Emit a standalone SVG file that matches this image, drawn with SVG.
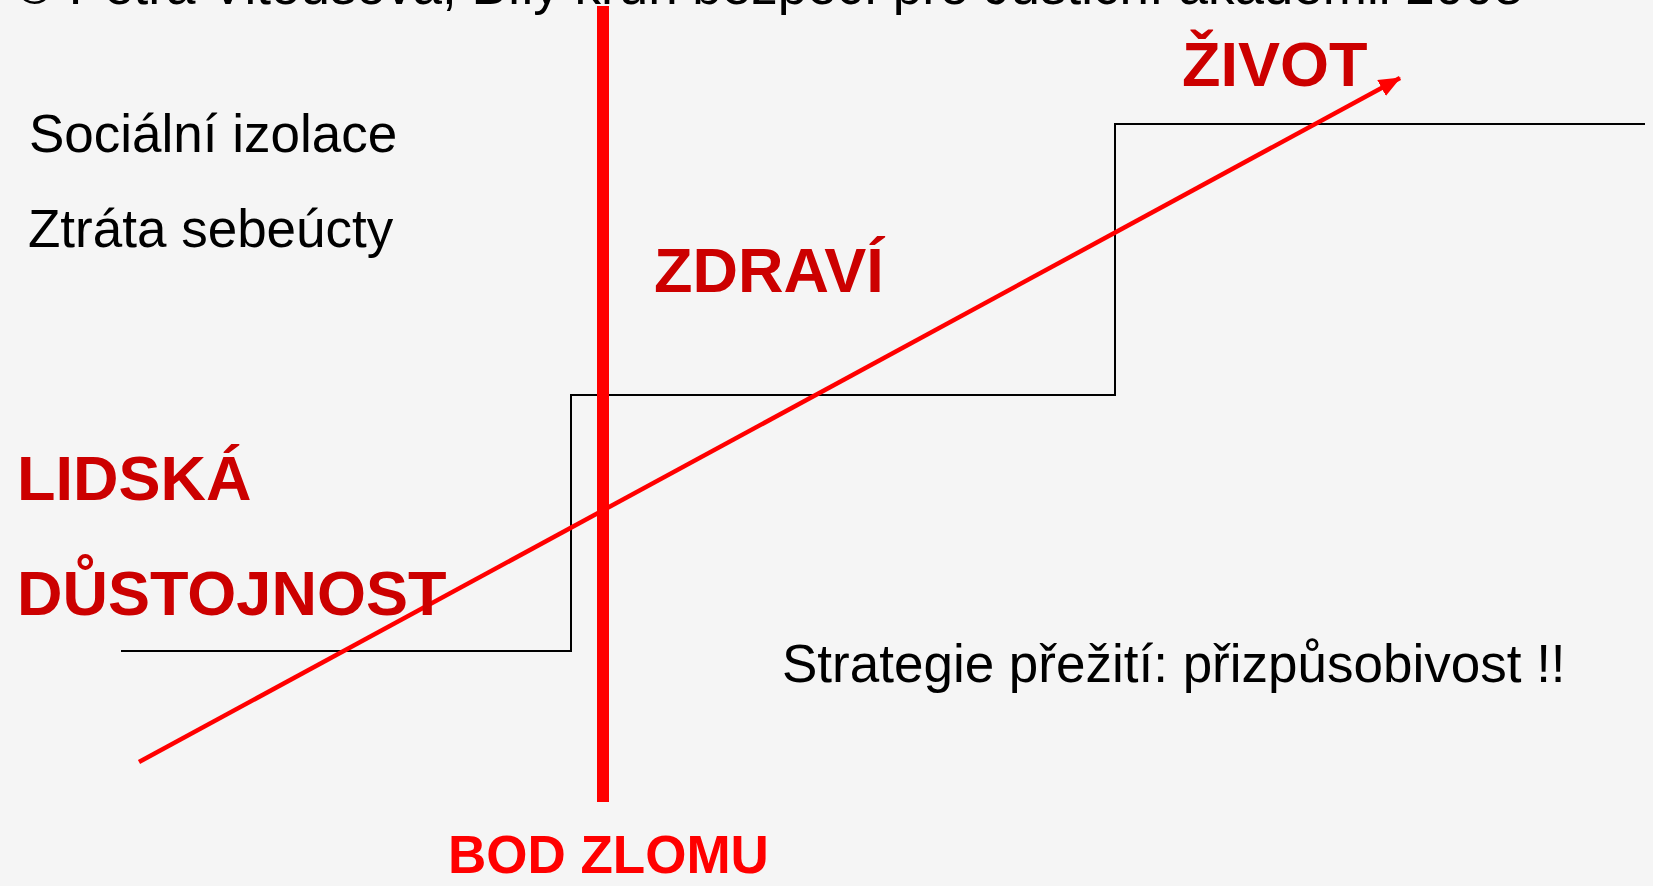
<svg xmlns="http://www.w3.org/2000/svg" width="1653" height="886" viewBox="0 0 1653 886">
<style>
.t{font-family:"Liberation Sans",Arial,sans-serif;font-size:53px;fill:#000}
.b{font-family:"Liberation Sans",Arial,sans-serif;font-weight:bold;font-size:63px;fill:#CC0000}
.bz{font-family:"Liberation Sans",Arial,sans-serif;font-weight:bold;font-size:53px;fill:#FF0000}
.step{fill:none;stroke:#000;stroke-width:2}
</style>
<defs>
<marker id="ah" markerUnits="userSpaceOnUse" markerWidth="26" markerHeight="20" refX="21" refY="9" orient="auto">
<path d="M0,0 L22,9 L0,18 z" fill="#FF0000"/>
</marker>
</defs>
<rect width="1653" height="886" fill="#F5F5F5"/>
<text class="t" x="15" y="4">© Petra Vitoušová, Bílý kruh bezpečí pro Justiční akademii 2008</text>
<g id="step"><polyline class="step" points="121,651 571,651 571,395 1115,395 1115,124 1645,124"/></g>
<g id="breakpoint"><rect x="597" y="6" width="12" height="796" fill="#FF0000"/></g>
<g id="connectors">
<line x1="139" y1="762" x2="1400" y2="78" stroke="#FF0000" stroke-width="4.5" marker-end="url(#ah)"/>
</g>
<g id="social"><text class="t" x="29" y="152">Sociální izolace</text></g>
<g id="selfrespect"><text class="t" x="28" y="247">Ztráta sebeúcty</text></g>
<g id="zivot"><text class="b" x="1182" y="86">ŽIVOT</text></g>
<g id="zdravi"><text class="b" x="654" y="292">ZDRAVÍ</text></g>
<g id="lidska"><text class="b" x="17" y="500">LIDSKÁ</text></g>
<g id="dustojnost"><text class="b" x="17" y="615">DŮSTOJNOST</text></g>
<g id="strategy"><text class="t" x="782" y="682">Strategie přežití: přizpůsobivost !!</text></g>
<g id="bodzlomu"><text class="bz" x="448" y="873">BOD ZLOMU</text></g>
</svg>
